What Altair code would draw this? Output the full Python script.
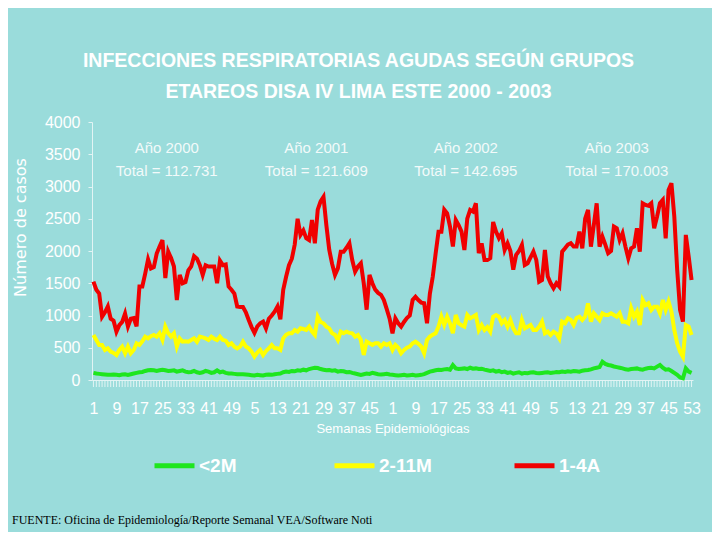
import json
import pandas as pd
import altair as alt

# ---- data ----
groups = ["<2M", "2-11M", "1-4A"]
colors = ["#1EE61E", "#FFFF00", "#F00000"]

years = ["Año 2000", "Año 2001", "Año 2002", "Año 2003"]
totals = ["Total = 112.731", "Total = 121.609", "Total = 142.695", "Total = 170.003"]
weeks_per_year = [52, 52, 52, 53]

tick_values = [1, 9, 17, 25, 33, 41, 49, 57, 65, 73, 81, 89, 97, 105, 113, 121,
               129, 137, 145, 153, 161, 169, 177, 185, 193, 201, 209]
tick_labels = ["1", "9", "17", "25", "33", "41", "49", "5", "13", "21", "29", "37", "45",
               "1", "9", "17", "25", "33", "41", "49", "5", "13", "21", "29", "37", "45", "53"]
y_ticks = [0, 500, 1000, 1500, 2000, 2500, 3000, 3500, 4000]

red_2000 = [1525, 1400, 1340, 980, 1050, 1140, 950, 920, 750, 850,
            900, 1030, 830, 950, 960, 830, 1450, 1450, 1650, 1870,
            1730, 1750, 1960, 2070, 2170, 1580, 1990, 1890, 1760, 1240,
            1630, 1500, 1520, 1700, 1760, 1920, 1880, 1780, 1630, 1780,
            1760, 1760, 1760, 1500, 1850, 1780, 1790, 1450, 1400, 1340,
            1140, 1130]
red_2001 = [1130, 1050, 930, 820, 730, 830, 880, 905, 800, 950,
            1000, 1060, 1140, 940, 1400, 1600, 1780, 1880, 2100, 2500,
            2250, 2320, 2200, 2170, 2480, 2120, 2640, 2770, 2840, 2400,
            2020, 1800, 1630, 1730, 1990, 1990, 2050, 2120, 1860, 1680,
            1760, 1810, 1500, 1090, 1630, 1500, 1400, 1350, 1320, 1240,
            1100, 950]
red_2002 = [724, 956, 880, 827, 900, 960, 1000, 1240, 1290, 1240,
            1200, 1190, 880, 1340, 1600, 1960, 2300, 2300, 2640, 2585,
            2380, 2070, 2480, 2400, 2300, 2016, 2500, 2637, 2611, 2740,
            1965, 2120, 1861, 1861, 1890, 2450, 2300, 2200, 2275, 2016,
            2120, 2000, 1710, 1939, 2000, 2094, 1784, 1810, 1900, 1990,
            1861, 1525]
red_2003 = [1551, 2016, 1603, 1500, 1422, 1500, 1448, 1990, 2042, 2100,
            2120, 2068, 2068, 2301, 2042, 2500, 2637, 2068, 2400, 2740,
            2068, 2223, 2100, 1965, 2000, 2378, 2352, 2171, 2275, 2068,
            1887, 2042, 2068, 2352, 1990, 2740, 2714, 2700, 2740, 2352,
            2533, 2740, 2792, 2197, 2947, 3050, 2533, 1706, 1086, 905,
            2249, 1913, 1551]

yellow_2000 = [698, 620, 543, 543, 465, 491, 440, 420, 388, 465,
               517, 414, 517, 414, 465, 569, 543, 600, 672, 646,
               680, 698, 672, 724, 620, 827, 724, 672, 724, 517,
               646, 594, 600, 594, 620, 646, 594, 672, 660, 646,
               620, 672, 640, 620, 672, 620, 610, 543, 569, 517,
               491, 517]
yellow_2001 = [594, 520, 491, 440, 362, 424, 465, 388, 450, 491,
               543, 491, 491, 465, 646, 700, 724, 724, 775, 750,
               801, 790, 775, 827, 750, 698, 982, 900, 879, 827,
               801, 724, 700, 620, 750, 724, 750, 730, 724, 672,
               698, 620, 388, 594, 569, 543, 569, 569, 517, 569,
               543, 569]
yellow_2002 = [465, 543, 500, 414, 465, 500, 517, 569, 594, 560,
               517, 414, 620, 672, 700, 724, 827, 982, 853, 982,
               879, 724, 1008, 879, 850, 827, 1008, 956, 980, 1008,
               775, 853, 775, 820, 750, 982, 1008, 982, 879, 930,
               827, 930, 801, 724, 724, 930, 801, 827, 853, 775,
               775, 827]
yellow_2003 = [905, 724, 750, 698, 750, 720, 646, 905, 879, 956,
               930, 853, 960, 982, 930, 982, 1189, 905, 1034, 982,
               930, 1034, 1008, 1008, 1034, 1008, 982, 1034, 905, 905,
               879, 1112, 982, 1060, 853, 1241, 1160, 1189, 1086, 1137,
               1137, 1034, 1241, 1086, 1215, 1060, 775, 569, 440, 362,
               853, 827, 698]

green_2000 = [110, 100, 95, 90, 85, 80, 80, 85, 80, 75,
              85, 90, 80, 90, 100, 110, 120, 125, 140, 150,
              155, 150, 140, 150, 160, 150, 140, 145, 150, 130,
              140, 150, 130, 120, 125, 140, 120, 110, 120, 140,
              130, 110, 120, 150, 120, 130, 110, 100, 100, 95,
              90, 90]
green_2001 = [90, 85, 80, 75, 70, 80, 75, 70, 80, 85,
              80, 90, 95, 100, 120, 130, 125, 140, 135, 150,
              145, 160, 150, 170, 180, 190, 185, 170, 160, 150,
              155, 145, 150, 130, 140, 135, 120, 125, 110, 100,
              90, 80, 90, 100, 95, 110, 100, 90, 85, 90,
              95, 85]
green_2002 = [80, 75, 70, 75, 80, 70, 75, 80, 70, 75,
              80, 90, 110, 130, 140, 150, 160, 155, 165, 170,
              160, 230, 180, 170, 175, 180, 170, 190, 175, 180,
              170, 175, 160, 150, 140, 150, 130, 140, 120, 130,
              110, 120, 100, 110, 120, 100, 110, 105, 115, 120,
              110, 105]
green_2003 = [110, 115, 120, 110, 115, 125, 120, 130, 125, 135,
              130, 140, 135, 130, 145, 150, 155, 165, 180, 190,
              200, 284, 250, 233, 225, 210, 200, 190, 180, 165,
              160, 170, 175, 180, 165, 160, 175, 185, 190, 180,
              207, 233, 190, 160, 165, 140, 110, 80, 40, 26,
              180, 130, 110]

footer = "FUENTE: Oficina de Epidemiología/Reporte Semanal VEA/Software  Noti"

# ---- assemble ----
green = green_2000 + green_2001 + green_2002 + green_2003
yellow = yellow_2000 + yellow_2001 + yellow_2002 + yellow_2003
red = red_2000 + red_2001 + red_2002 + red_2003
n = len(red)
idx = list(range(1, n + 1))

df = pd.DataFrame({
    "idx": idx * 3,
    "value": green + yellow + red,
    "group": [groups[0]] * n + [groups[1]] * n + [groups[2]] * n,
})
weeks_df = pd.DataFrame({"idx": idx})

starts = []
s = 1
for w in weeks_per_year:
    starts.append(s)
    s += w
mids = [st + (w - 1) / 2 for st, w in zip(starts, weeks_per_year)]
ann = pd.DataFrame({"mid": mids, "text": [f"{a}\n{t}" for a, t in zip(years, totals)]})

tv = json.dumps(tick_values)
tl = json.dumps(tick_labels)
label_expr = f"{tl}[indexof({tv}, datum.value)]"

FONT = "Liberation Sans"
WHITE = "#FFFFFF"
AXISC = "#E2F4F4"

xscale = alt.Scale(domain=[0.5, n + 0.5], nice=False, zero=False)
yscale = alt.Scale(domain=[0, 4000], nice=False)

x_axis = alt.Axis(values=tick_values, labelExpr=label_expr, labelOverlap=False,
                  labelFlush=False, ticks=False, domainColor=AXISC,
                  title="Semanas Epidemiológicas", titleFont=FONT, titleFontSize=13,
                  titleFontWeight="normal", titleColor=WHITE, titlePadding=6,
                  labelFont=FONT, labelFontSize=16, labelColor=WHITE, labelPadding=20,
                  grid=False)

lines = alt.Chart(df).mark_line(strokeWidth=4).encode(
    x=alt.X("idx:Q", scale=xscale, axis=x_axis),
    y=alt.Y("value:Q", scale=yscale,
            axis=alt.Axis(values=y_ticks, format="d", title="Número de casos",
                          titleFont="DejaVu Sans",
                          titleFontSize=16, titleFontWeight="normal", titleColor=WHITE,
                          titleX=-72, titleY=105, titleAngle=270, titleAlign="center",
                          titleBaseline="middle",
                          labelFont=FONT, labelFontSize=16, labelColor=WHITE, labelPadding=8,
                          tickSize=4, tickColor=AXISC, domainColor=AXISC, grid=False)),
    color=alt.Color("group:N", scale=alt.Scale(domain=groups, range=colors),
                    legend=alt.Legend(title=None, orient="none", legendX=60, legendY=321,
                                      direction="horizontal", symbolType="stroke",
                                      symbolSize=1600, symbolStrokeWidth=5,
                                      labelFont=FONT, labelFontSize=19, labelFontWeight="bold",
                                      labelColor=WHITE, labelOffset=2,
                                      columnPadding=72, gridAlign="all")),
)

# weekly tick comb under the x axis
week_ticks = alt.Chart(weeks_df).mark_rule(color=AXISC, strokeWidth=1).encode(
    x=alt.X("idx:Q", scale=xscale, axis=x_axis),
    y=alt.value(259),
    y2=alt.value(265),
)

notes = alt.Chart(ann).mark_text(font=FONT, fontSize=15, color="#F2FAFA", lineBreak="\n",
                                 lineHeight=23, baseline="middle", align="center").encode(
    x=alt.X("mid:Q", scale=xscale, axis=x_axis),
    y=alt.value(26),
    text="text:N",
)

foot = alt.Chart(pd.DataFrame({"t": [footer]})).mark_text(
    font="Liberation Serif", fontSize=12, color="black", align="left", baseline="middle"
).encode(x=alt.value(-80), y=alt.value(398), text="t:N")

chart = alt.layer(lines, week_ticks, notes, foot).properties(
    width=601, height=258,
    padding={"left": 84, "top": 114, "right": 19, "bottom": 152},
    autosize=alt.AutoSizeParams(type="none"),
    title=alt.TitleParams(
        text=["INFECCIONES RESPIRATORIAS AGUDAS SEGÚN GRUPOS", "ETAREOS DISA IV LIMA ESTE 2000 - 2003"],
        font=FONT, fontSize=19.5, fontWeight="bold", color=WHITE, anchor="middle",
        dx=-34, offset=12, lineHeight=31),
).configure(background="#9ADCDB").configure_view(stroke=None).configure_axisX(labelOverlap=False)

chart.save("out.html", embed_options={"renderer": "svg", "actions": False})
